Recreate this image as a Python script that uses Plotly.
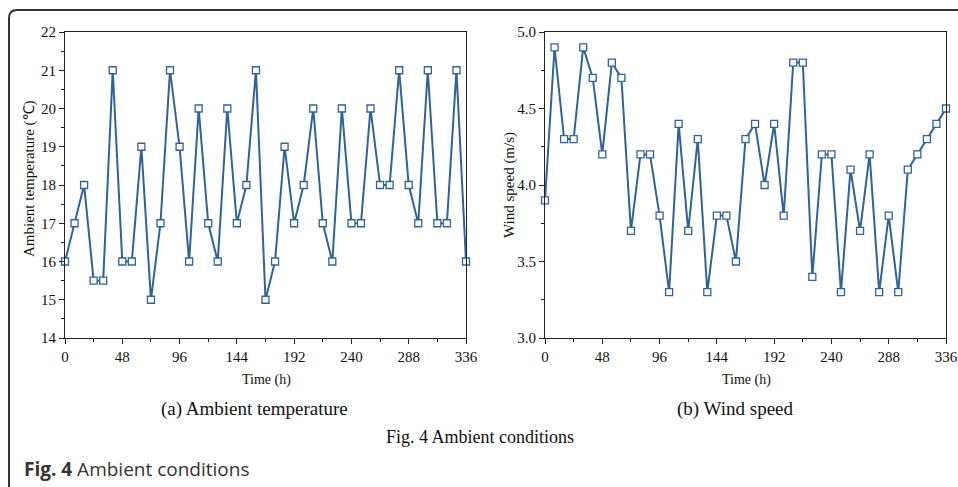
import plotly.graph_objects as go

hours = list(range(0, 337, 8))
temperature = [16, 17, 18, 15.5, 15.5, 21, 16, 16, 19, 15, 17, 21, 19, 16, 20, 17, 16, 20,
               17, 18, 21, 15, 16, 19, 17, 18, 20, 17, 16, 20, 17, 17, 20, 18, 18, 21,
               18, 17, 21, 17, 17, 21, 16]
wind_speed = [3.9, 4.9, 4.3, 4.3, 4.9, 4.7, 4.2, 4.8, 4.7, 3.7, 4.2, 4.2, 3.8, 3.3, 4.4,
              3.7, 4.3, 3.3, 3.8, 3.8, 3.5, 4.3, 4.4, 4.0, 4.4, 3.8, 4.8, 4.8, 3.4, 4.2,
              4.2, 3.3, 4.1, 3.7, 4.2, 3.3, 3.8, 3.3, 4.1, 4.2, 4.3, 4.4, 4.5]
x_ticks = [0, 48, 96, 144, 192, 240, 288, 336]
temp_ticks = [14, 15, 16, 17, 18, 19, 20, 21, 22]
wind_ticks = [3.0, 3.5, 4.0, 4.5, 5.0]
wind_tick_text = ["3.0", "3.5", "4.0", "4.5", "5.0"]

W, H = 958, 487
BLUE = "#30639b"
SERIF = "Liberation Serif"

def px(x):
    return x / W

def py(y):
    return 1 - y / H

fig = go.Figure()
marker = dict(symbol="square", size=7, color="white", line=dict(color=BLUE, width=1.3))
fig.add_trace(go.Scatter(x=hours, y=temperature, mode="lines+markers",
                         line=dict(color=BLUE, width=2), marker=marker,
                         xaxis="x", yaxis="y", showlegend=False, cliponaxis=False))
fig.add_trace(go.Scatter(x=hours, y=wind_speed, mode="lines+markers",
                         line=dict(color=BLUE, width=2), marker=marker,
                         xaxis="x2", yaxis="y2", showlegend=False, cliponaxis=False))

def axis_common(size=15):
    return dict(showline=True, linecolor="#222", linewidth=1.2, mirror=True,
                ticks="outside", ticklen=5, tickwidth=1, tickcolor="#222",
                showgrid=False, zeroline=False, automargin=False,
                tickfont=dict(family=SERIF, size=size, color="#111"))

ydom = [py(338), py(32)]
fig.update_layout(
    width=W, height=H, template="none",
    margin=dict(l=0, r=0, t=0, b=0),
    paper_bgcolor="white", plot_bgcolor="white",
    xaxis=dict(domain=[px(65), px(466)], range=[0, 336], tickvals=x_ticks,
               minor=dict(dtick=24, tick0=0, ticks="outside", ticklen=3, tickcolor="#222"),
               anchor="y", **axis_common()),
    yaxis=dict(domain=ydom, range=[14, 22], tickvals=temp_ticks,
               minor=dict(dtick=0.5, tick0=14, ticks="outside", ticklen=3, tickcolor="#222"),
               anchor="x", **axis_common()),
    xaxis2=dict(domain=[px(545), px(946)], range=[0, 336], tickvals=x_ticks,
                minor=dict(dtick=24, tick0=0, ticks="outside", ticklen=3, tickcolor="#222"),
                anchor="y2", **axis_common()),
    yaxis2=dict(domain=ydom, range=[3.0, 5.0], tickvals=wind_ticks, ticktext=wind_tick_text,
                minor=dict(dtick=0.25, tick0=3.0, ticks="outside", ticklen=3, tickcolor="#222"),
                anchor="x2", **axis_common()),
)

def ann(text, x, y, size, family=SERIF, angle=0, xanchor="center", color="#111"):
    fig.add_annotation(text=text, x=px(x), y=py(y), xref="paper", yref="paper",
                       showarrow=False, textangle=angle, xanchor=xanchor, yanchor="middle",
                       font=dict(family=family, size=size, color=color))

ann("Time (h)", 266, 380, 14)
ann("Time (h)", 746, 380, 14)
ann("Ambient temperature (℃)", 30, 179, 15, angle=-90)
ann("Wind speed (m/s)", 509, 185, 15, angle=-90)
ann("(a) Ambient temperature", 255, 409, 19)
ann("(b) Wind speed", 735, 409, 19)
ann("Fig. 4 Ambient conditions", 480, 437, 18)
ann("<b>Fig. 4</b> Ambient conditions", 22, 469, 19, family="Open Sans", xanchor="left", color="#333")

# outer rounded frame
path = "M {} {} L {} {} Q {} {} {} {} L {} {}".format(
    px(9), py(487), px(9), py(18), px(9), py(10), px(17), py(10), px(958), py(10))
fig.add_shape(type="path", path=path, xref="paper", yref="paper",
              line=dict(color="#333", width=2))

fig.write_html("out.html", config={"displayModeBar": False},
               post_script="document.body.style.margin='0';document.body.style.overflow='hidden';")
